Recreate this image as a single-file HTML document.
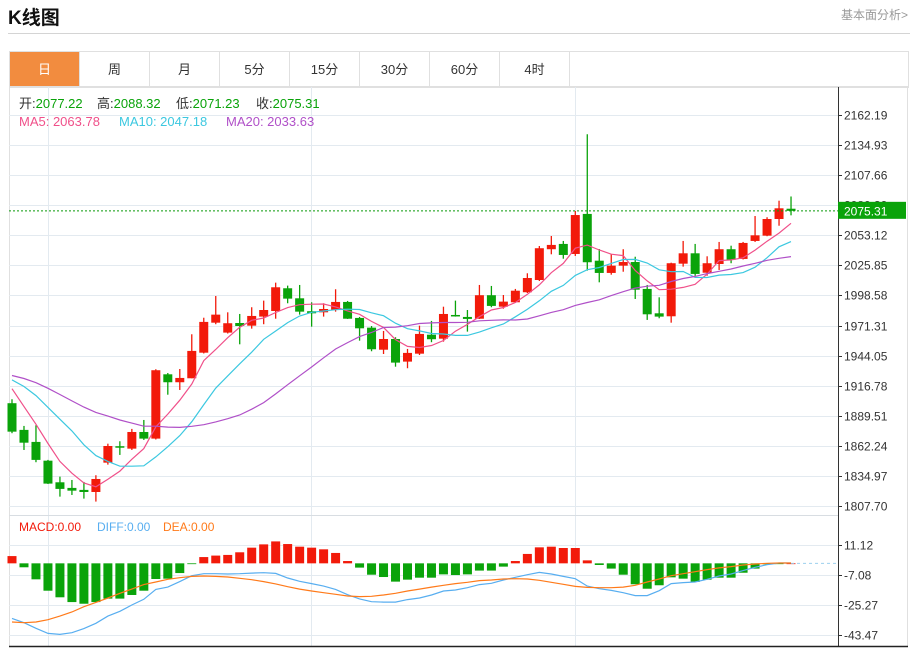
<!DOCTYPE html>
<html><head><meta charset="utf-8">
<style>
body{margin:0;width:918px;height:651px;background:#fff;font-family:"Liberation Sans","Noto Sans CJK SC",sans-serif;overflow:hidden;position:relative}
.abs{position:absolute}
#title{left:8px;top:3px;font-size:19px;font-weight:bold;color:#111}
#fa{right:10px;top:6px;font-size:12px;color:#999}
#hr{left:8px;top:33px;width:902px;height:1px;background:#d4d4d4}
#tabs{left:9px;top:51px;width:898px;height:35px;border:1px solid #e0e0e0;display:flex}
.tab{width:69px;border-right:1px solid #e0e0e0;text-align:center;line-height:35px;font-size:13px;color:#333}
.tab.on{background:#f28c3f;color:#fff}
svg{position:absolute;left:0;top:0}
</style></head><body>
<div id="title" class="abs">K线图</div>
<div id="fa" class="abs">基本面分析&gt;</div>
<div id="hr" class="abs"></div>
<div id="tabs" class="abs">
<div class="tab on">日</div>
<div class="tab">周</div>
<div class="tab">月</div>
<div class="tab">5分</div>
<div class="tab">15分</div>
<div class="tab">30分</div>
<div class="tab">60分</div>
<div class="tab">4时</div>
</div>
<svg id="chart" width="918" height="651"></svg>
<script>
const priceTicks=[2162.19,2134.93,2107.66,2080.39,2053.12,2025.85,1998.58,1971.31,1944.05,1916.78,1889.51,1862.24,1834.97,1807.70];
const macdTicks=[11.12,-7.08,-25.27,-43.47];
const opens=[1900.9,1876.7,1865.8,1848.8,1829.2,1824.1,1822.3,1820.4,1847.0,1861.9,1859.7,1874.8,1868.8,1927.1,1919.9,1923.5,1946.7,1973.9,1964.9,1973.6,1971.2,1979.4,1984.5,2005.1,1996.0,1984.3,1983.3,1985.4,1992.7,1978.2,1969.4,1949.4,1959.1,1938.6,1945.8,1963.0,1959.4,1980.9,1979.1,1977.5,1998.8,1988.4,1992.4,2001.5,2012.6,2040.5,2045.3,2036.2,2072.5,2030.1,2019.0,2025.6,2028.9,2004.5,1982.4,1979.7,2027.4,2036.8,2019.2,2027.1,2040.5,2031.7,2048.0,2052.8,2067.9,2077.22];
const highs=[1904.5,1880.3,1880.9,1849.5,1834.3,1831.3,1829.5,1835.6,1864.2,1866.4,1877.6,1885.7,1931.7,1928.3,1931.9,1963.4,1978.4,1998.1,1983.3,1981.8,1987.9,1993.9,2010.2,2007.5,2008.1,1992.4,1991.5,2004.2,1993.6,1979.1,1970.9,1966.4,1960.7,1950.1,1971.2,1975.5,1988.4,1993.9,1985.4,2008.1,2007.2,1999.0,2004.5,2018.7,2043.4,2052.5,2048.0,2075.2,2144.7,2040.7,2036.2,2040.5,2033.7,2008.1,1996.9,2028.3,2048.0,2045.3,2034.1,2047.1,2043.7,2047.1,2070.6,2069.5,2084.5,2088.32];
const lows=[1873.7,1858.5,1847.4,1827.7,1816.2,1817.7,1814.4,1811.7,1845.2,1854.0,1858.5,1867.6,1868.0,1908.6,1912.9,1923.5,1946.0,1972.5,1964.1,1954.3,1968.5,1972.5,1977.5,1991.5,1981.2,1970.3,1979.4,1983.9,1977.3,1957.6,1948.0,1945.5,1934.0,1932.6,1944.6,1956.2,1956.7,1979.4,1965.8,1977.3,1987.9,1986.6,1991.8,2000.8,2011.7,2035.9,2031.9,2034.4,2021.1,2010.5,2017.4,2020.1,1995.4,1976.4,1977.9,1973.9,2024.7,2016.3,2016.5,2021.7,2027.8,2031.2,2047.1,2052.3,2061.8,2071.23];
const closes=[1875.1,1865.1,1849.5,1828.0,1823.2,1821.6,1820.4,1832.2,1862.1,1860.6,1874.8,1868.8,1930.8,1919.9,1923.8,1948.3,1974.6,1981.2,1973.4,1970.9,1980.0,1985.4,2006.0,1995.7,1983.9,1982.4,1986.3,1992.7,1977.5,1968.8,1949.8,1959.1,1937.7,1946.5,1963.7,1958.9,1981.8,1980.0,1977.3,1998.8,1989.1,1993.0,2002.9,2014.4,2041.4,2044.4,2035.3,2071.5,2028.7,2019.0,2025.6,2028.9,2003.8,1981.5,1979.4,2027.8,2036.8,2018.1,2027.8,2040.5,2031.0,2046.2,2053.1,2067.9,2077.6,2075.31];
const prevCloses=[1920,1925,1930,1935,1938,1932,1928,1930,1932,1930,1925,1932,1935,1930,1928,1946,1930,1915,1904];
const macdHist=[4.4,-2.4,-9.7,-16.6,-20.6,-23.5,-24.5,-23.5,-21.4,-21.4,-19.2,-16.6,-9.5,-9.3,-5.9,-0.4,3.8,4.7,5.1,6.7,9.5,11.5,13.3,11.7,10.1,9.5,8.5,6.3,1.4,-2.6,-6.9,-8.3,-11.1,-9.9,-8.7,-8.7,-6.7,-7.1,-6.7,-4.4,-4.4,-2.0,1.4,5.7,9.7,10.1,9.3,9.3,1.8,-1.0,-3.2,-6.9,-12.7,-15.4,-13.3,-8.5,-9.3,-11.3,-9.9,-8.7,-8.7,-5.7,-3.2,-0.6,-0.1,0];
const diffVals=[-33.4,-36.0,-39.4,-42.5,-43.1,-42.1,-39.6,-36.4,-32.0,-29.1,-25.3,-21.8,-15.8,-14.4,-11.1,-7.5,-6.3,-6.3,-6.5,-6.3,-5.9,-5.7,-6.1,-8.9,-10.9,-12.3,-13.8,-15.8,-19.0,-21.6,-23.3,-23.5,-23.5,-22.0,-21.0,-19.2,-16.8,-16.2,-14.8,-12.9,-12.1,-10.1,-8.5,-6.9,-5.5,-6.5,-7.9,-9.3,-13.8,-15.4,-16.4,-17.8,-19.6,-19.6,-16.6,-12.3,-11.7,-11.3,-9.7,-7.7,-6.5,-4.4,-2.4,-0.8,0.2,0.2];
const deaVals=[-35.6,-36.0,-35.6,-34.2,-32.0,-29.5,-26.3,-23.7,-21.0,-18.2,-15.6,-12.9,-11.3,-9.7,-8.7,-7.9,-7.7,-7.9,-8.3,-9.1,-9.9,-11.1,-12.5,-14.2,-15.6,-16.8,-17.8,-18.8,-19.8,-20.2,-20.0,-19.2,-18.2,-16.8,-15.6,-14.4,-13.3,-12.3,-11.5,-10.5,-10.1,-9.5,-9.3,-9.5,-10.3,-11.5,-12.7,-14.0,-14.6,-14.8,-14.8,-14.4,-13.3,-11.3,-9.5,-7.5,-6.3,-5.1,-3.8,-2.8,-2.0,-1.0,-0.4,0,0.2,0.2];

const NS='http://www.w3.org/2000/svg';
const svg=document.getElementById('chart');
const L=9,R=838,W=908;
function xAt(i){return 12+i*11.985;}
function yP(v){return 115+(2162.19-v)*(391/(2162.19-1807.70));}
function yM(v){return 545+(11.12-v)*(90/(11.12+43.47));}
function mk(tag,attrs,parent){const e=document.createElementNS(NS,tag);for(const k in attrs)e.setAttribute(k,attrs[k]);(parent||svg).appendChild(e);return e;}
function txt(x,y,s,fill,size,anchor){const t=mk('text',{x:x,y:y,fill:fill,'font-size':size||12,'text-anchor':anchor||'start','font-family':'"Liberation Sans","Noto Sans CJK SC",sans-serif'});t.textContent=s;return t;}

let e;
e=mk('rect',{x:9.5,y:86.5,width:898,height:560,fill:'none',stroke:'#e0e0e0'});


[48,311,575].forEach(gx=>{
  e=mk('line',{x1:gx+.5,x2:gx+.5,y1:87,y2:646,stroke:'#e3eaf0'});
  
  
});
priceTicks.forEach(v=>{
  const y=Math.round(yP(v))+.5;
  e=mk('line',{x1:L,x2:R,y1:y,y2:y,stroke:'#e3eaf0'});
  
  
  mk('line',{x1:R,x2:R+4,y1:y,y2:y,stroke:'#333'});
  e=txt(R+6,y+4,v.toFixed(2),'#333',12);
  
  
});
macdTicks.forEach(v=>{
  const y=Math.round(yM(v))+.5;
  e=mk('line',{x1:L,x2:R,y1:y,y2:y,stroke:'#e3eaf0'});
  
  
  mk('line',{x1:R,x2:R+4,y1:y,y2:y,stroke:'#333'});
  e=txt(R+6,y+4,v.toFixed(2),'#333',12);
  
  
});
e=mk('line',{x1:L,x2:R,y1:515.5,y2:515.5,stroke:'#d8dde2'});


e=mk('line',{x1:R+.5,x2:R+.5,y1:87,y2:647,stroke:'#333'});


e=mk('line',{x1:L,x2:W,y1:646.5,y2:646.5,stroke:'#222','stroke-width':1.5});



const RED='#f21a0a',GREEN='#0aa30a';
for(let i=0;i<closes.length;i++){
  const up=closes[i]>opens[i];const c=up?RED:GREEN;const x=xAt(i);
  const g=mk('g',{});
  
  
  mk('line',{x1:x,x2:x,y1:yP(highs[i]),y2:yP(lows[i]),stroke:c,'stroke-width':1.3},g);
  const t=yP(Math.max(opens[i],closes[i])),b=yP(Math.min(opens[i],closes[i]));
  mk('rect',{x:x-4.5,y:t,width:9,height:Math.max(1.5,b-t),fill:c},g);
}
const all=prevCloses.concat(closes);const off=prevCloses.length;
function ma(n){const out=[];for(let i=0;i<closes.length;i++){let s=0;for(let k=0;k<n;k++)s+=all[off+i-k];out.push(s/n);}return out;}
[[5,'#f0508a','ma5-line'],[10,'#3cc8e0','ma10-line'],[20,'#b050c8','ma20-line']].forEach(([n,col,name])=>{
  const m=ma(n);
  e=mk('polyline',{points:m.map((v,i)=>xAt(i).toFixed(1)+','+yP(v).toFixed(1)).join(' '),fill:'none',stroke:col,'stroke-width':1.2});
  
  
});
const last=closes[closes.length-1];
e=mk('line',{x1:L,x2:R,y1:yP(last),y2:yP(last),stroke:'#0a9a0a','stroke-dasharray':'2,2'});


e=mk('rect',{x:R,y:yP(last)-9,width:68,height:17,fill:'#0aa30a'});


txt(R+6,yP(last)+4.5,last.toFixed(2),'#fff',12);

for(let i=0;i<macdHist.length;i++){
  const v=macdHist[i];const y0=yM(0),y1=yM(v);
  e=mk('rect',{x:xAt(i)-4.5,y:Math.min(y0,y1),width:9,height:Math.max(0.8,Math.abs(y1-y0)),fill:v>=0?RED:GREEN});
  
  
}
e=mk('line',{x1:xAt(macdHist.length-1),x2:R,y1:yM(0),y2:yM(0),stroke:'#9cd0ee','stroke-dasharray':'3,3'});


[[diffVals,'#58aef0','diff-line'],[deaVals,'#ff7a1a','dea-line']].forEach(([arr,col,name])=>{
  e=mk('polyline',{points:arr.map((v,i)=>xAt(i).toFixed(1)+','+yM(v).toFixed(1)).join(' '),fill:'none',stroke:col,'stroke-width':1.2});
  
  
});

function info(y,parts,name,size){const t=mk('text',{x:19,y:y,'font-size':size,'font-family':'"Liberation Sans","Noto Sans CJK SC",sans-serif'});
  
  
  parts.forEach(([s,c,x])=>{const a={fill:c};if(x!==undefined)a.x=x;const sp=mk('tspan',a,t);sp.textContent=s;});}
info(108,[['开:','#333',19],['2077.22','#0aa30a'],['高:','#333',97],['2088.32','#0aa30a'],['低:','#333',176],['2071.23','#0aa30a'],['收:','#333',256],['2075.31','#0aa30a']],'ohlc-info',13);
info(126,[['MA5: 2063.78','#f0508a',19],['MA10: 2047.18','#3cc8e0',119],['MA20: 2033.63','#b050c8',226]],'ma-legend',13);
info(531,[['MACD:0.00','#f21a0a',19],['DIFF:0.00','#58aef0',97],['DEA:0.00','#ff7a1a',163]],'macd-legend',12);
</script>
</body></html>
